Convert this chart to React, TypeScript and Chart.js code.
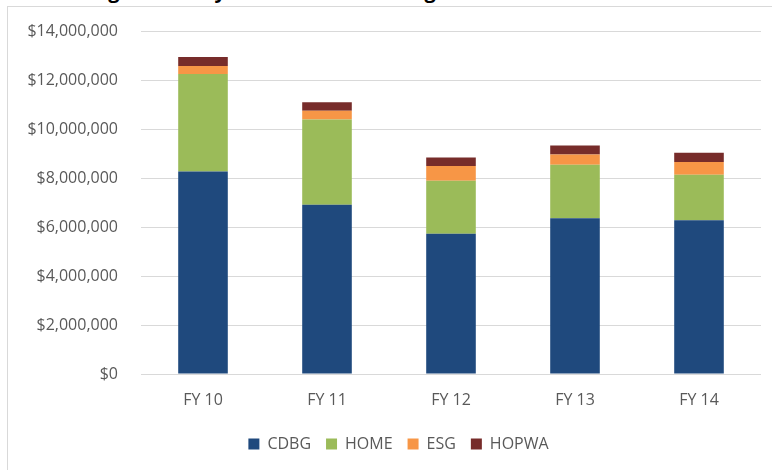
import React, { useEffect, useRef } from "react";
import { Chart, registerables } from "chart.js";

Chart.register(...registerables);

const categories = ["FY 10", "FY 11", "FY 12", "FY 13", "FY 14"];
const cdbg = [8270000, 6910000, 5720000, 6360000, 6280000];
const home = [3970000, 3480000, 2170000, 2180000, 1850000];
const esg = [330000, 350000, 600000, 420000, 520000];
const hopwa = [370000, 350000, 350000, 370000, 380000];
const yTicks = [0, 2000000, 4000000, 6000000, 8000000, 10000000, 12000000, 14000000];

const FONT = "'Open Sans', sans-serif";
const TEXT = "#595959";

const legendShift = {
  id: "legendShift",
  afterLayout(chart: any) {
    const lg = chart.legend;
    if (lg) {
      lg.left += 14;
      lg.right += 14;
    }
  },
};

export default function App() {
  const ref = useRef<HTMLCanvasElement | null>(null);

  useEffect(() => {
    document.body.style.margin = "0";
    const ctx = ref.current!;
    const chart = new Chart(ctx, {
      type: "bar",
      data: {
        labels: categories,
        datasets: [
          { label: "CDBG", data: cdbg, backgroundColor: "#1F497D" },
          { label: "HOME", data: home, backgroundColor: "#9BBB59" },
          { label: "ESG", data: esg, backgroundColor: "#F79646" },
          { label: "HOPWA", data: hopwa, backgroundColor: "#772C2A" },
        ],
      },
      plugins: [legendShift],
      options: {
        animation: false,
        responsive: false,
        maintainAspectRatio: false,
        layout: { padding: { top: 24, right: 39, bottom: 8, left: 0 } },
        datasets: { bar: { barPercentage: 0.4, categoryPercentage: 1 } },
        plugins: {
          title: { display: false },
          tooltip: { enabled: false },
          legend: {
            position: "bottom",
            labels: {
              boxWidth: 11,
              boxHeight: 11,
              padding: 15,
              color: TEXT,
              font: { family: FONT, size: 16 },
            },
          },
        },
        scales: {
          x: {
            stacked: true,
            grid: { display: false, drawTicks: false },
            border: { display: false },
            ticks: { color: TEXT, font: { family: FONT, size: 16 }, padding: 17 },
            afterFit: (scale: any) => {
              scale.height = 47;
              scale.paddingLeft = 0;
              scale.paddingRight = 0;
            },
          },
          y: {
            stacked: true,
            min: 0,
            max: 14000000,
            afterBuildTicks: (scale: any) => {
              scale.ticks = yTicks.map((v) => ({ value: v }));
            },
            afterFit: (scale: any) => {
              scale.width = 133;
              scale.paddingTop = 0;
              scale.paddingBottom = 0;
            },
            grid: { color: "#d9d9d9", lineWidth: 1, drawTicks: false },
            border: { display: false },
            ticks: {
              color: TEXT,
              font: { family: FONT, size: 16 },
              padding: 23,
              callback: (v: any) => "$" + Number(v).toLocaleString("en-US"),
            },
          },
        },
      },
    });
    return () => chart.destroy();
  }, []);

  return (
    <div
      style={{
        position: "fixed",
        left: 0,
        top: 0,
        width: 772,
        height: 470,
        overflow: "hidden",
        background: "#fff",
      }}
    >
      <div
        style={{
          position: "absolute",
          left: 0,
          width: 792,
          top: -20,
          textAlign: "center",
          fontFamily: FONT,
          fontWeight: 700,
          fontSize: 20,
          lineHeight: "22px",
          color: "#000",
          whiteSpace: "nowrap",
        }}
      >
        Figure 9 - City Entitlement Funding Received FY 2010 - FY 2014
      </div>
      <div
        style={{
          position: "absolute",
          left: 7,
          top: 6,
          width: 800,
          height: 500,
          border: "1px solid #d9d9d9",
        }}
      />
      <canvas
        ref={ref}
        width={792}
        height={463}
        style={{ position: "absolute", left: 8, top: 7, width: 792, height: 463 }}
      />
    </div>
  );
}
